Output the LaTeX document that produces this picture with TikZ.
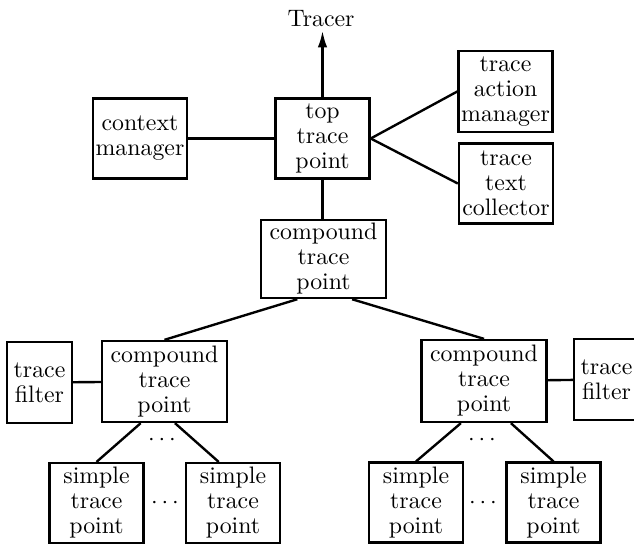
\documentclass[tikz,border=0pt]{standalone}
\usetikzlibrary{arrows.meta}

\begin{document}
\begin{tikzpicture}[x=0.42pt,y=-0.42pt,line width=1pt,
    box/.style={draw,align=center,inner sep=0pt,minimum width=39.5pt,minimum height=33.5pt,
      font=\fontsize{10}{10.5}\selectfont},
    widebox/.style={box,minimum width=52.5pt},
    thinbox/.style={box,minimum width=27.3pt,minimum height=34pt}]
  \useasboundingbox (0,0) rectangle (634,545);
  % top level
  \node[inner sep=1pt] (tracer) at (321,19) {Tracer};
  \node[box] (ctx) at (140,138.5) {context\\manager};
  \node[box] (top) at (322.5,138.5) {top\\trace\\point};
  \node[box,minimum height=34pt] (action) at (505.5,91.5) {trace\\action\\manager};
  \node[box] (collect) at (506,183.5) {trace\\text\\collector};
  \node[widebox,minimum height=32.8pt] (mid) at (323.5,259) {compound\\trace\\point};
  % two branches
  \node[widebox,minimum height=34pt] (lcomp) at (164.5,381.5) {compound\\trace\\point};
  \node[thinbox] (lfilter) at (39.5,382.5) {trace\\filter};
  \node[widebox,minimum height=34.4pt] (rcomp) at (484,381) {compound\\trace\\point};
  \node[thinbox] (rfilter) at (606.5,379.5) {trace\\filter};
  \node[box] (s1) at (96.5,503) {simple\\trace\\point};
  \node[box] (s2) at (233,503) {simple\\trace\\point};
  \node[box] (s3) at (416,502.5) {simple\\trace\\point};
  \node[box] (s4) at (553.5,502.5) {simple\\trace\\point};
  \node (ldots) at (162,440) {$\cdots$};
  \node (ldotsb) at (165,503) {$\cdots$};
  \node (rdots) at (482,440) {$\cdots$};
  \node (rdotsb) at (483,503) {$\cdots$};

  \draw[-{Latex[length=7pt,width=4pt]}] (top.north) -- (top.north |- tracer.south);
  \draw (ctx) -- (top);
  \draw (top.east) -- (action.west);
  \draw (top.east) -- (collect.west);
  \draw (top.south) -- (top.south |- mid.north);
  \draw ([xshift=-11pt]mid.south) -- (lcomp.north);
  \draw ([xshift=12pt]mid.south) -- (rcomp.north);
  \draw (lfilter) -- (lcomp);
  \draw (rcomp) -- (rfilter);
  \draw ([xshift=-10pt]lcomp.south) -- (s1.north);
  \draw ([xshift=4.4pt]lcomp.south) -- ([xshift=-6pt]s2.north);
  \draw ([xshift=-9.7pt]rcomp.south) -- (s3.north);
  \draw ([xshift=11.3pt]rcomp.south) -- (s4.north);
\end{tikzpicture}
\end{document}
